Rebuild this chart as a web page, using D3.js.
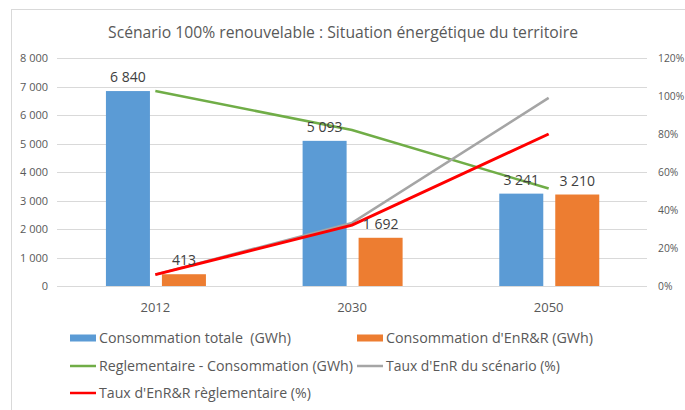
<!DOCTYPE html>
<html><head><meta charset="utf-8">
<script src="https://cdn.jsdelivr.net/npm/d3@7"></script>
<style>
html,body{margin:0;padding:0;background:#fff;}
svg{display:block;font-family:"Open Sans","Noto Sans",sans-serif;}
</style></head>
<body><svg id="c" width="685" height="410"></svg>
<script>
const title = "Scénario 100% renouvelable : Situation énergétique du territoire";
const categories = ["2012", "2030", "2050"];
const consoTotale = [6840, 5093, 3241];
const consoEnR = [413, 1692, 3210];
const reglementaireConso = [6840, 5472, 3420];
const tauxScenario = [6.0, 33.2, 99.0];
const tauxReglementaire = [6.0, 32, 80];
const leftTicks = [0, 1000, 2000, 3000, 4000, 5000, 6000, 7000, 8000];
const rightTicks = [0, 20, 40, 60, 80, 100, 120];
const seriesNames = ["Consommation totale  (GWh)", "Consommation d'EnR&R (GWh)",
  "Reglementaire - Consommation (GWh)", "Taux d'EnR du scénario (%)", "Taux d'EnR&R règlementaire (%)"];
const colors = ["#5B9BD5", "#ED7D31", "#70AD47", "#A5A5A5", "#FF0000"];

const svg = d3.select("#c");
const L = 57, R = 647, T = 58, B = 286;

// border
svg.append("rect").attr("x", 11.5).attr("y", 9.5).attr("width", 700).attr("height", 420)
  .attr("fill", "none").attr("stroke", "#D9D9D9");

function fitText(sel, w) {
  const node = sel.node();
  const cur = node.getComputedTextLength();
  const fs = parseFloat(sel.attr("font-size"));
  sel.attr("font-size", (fs * w / cur).toFixed(2));
}

const x = d3.scaleBand().domain(categories).range([L, R]);
const yL = d3.scaleLinear().domain([0, 8000]).range([B, T]);
const yR = d3.scaleLinear().domain([0, 120]).range([B, T]);
const inner = d3.scaleBand().domain([0, 1]).range([-49.4, 50.6]).paddingInner(0.214);

// title
const t = svg.append("text").attr("x", 343).attr("y", 38).attr("text-anchor", "middle")
  .attr("font-size", 18).attr("fill", "#595959").text(title);
fitText(t, 470);

// grid
svg.append("g").selectAll("line").data(leftTicks).join("line")
  .attr("x1", L).attr("x2", R).attr("y1", d => Math.round(yL(d)) + 0.5).attr("y2", d => Math.round(yL(d)) + 0.5)
  .attr("stroke", "#D9D9D9").attr("stroke-width", 1);

// left axis labels
const fmt = d => d3.format(",")(d).replace(/,/g, " ");
svg.append("g").selectAll("text").data(leftTicks).join("text")
  .attr("x", 48).attr("y", d => yL(d) + 4).attr("text-anchor", "end")
  .attr("font-size", 11).attr("fill", "#595959").text(fmt);

// right axis labels
svg.append("g").selectAll("text").data(rightTicks).join("text")
  .attr("x", 658).attr("y", d => yR(d) + 4).attr("text-anchor", "start")
  .attr("font-size", 10.3).attr("fill", "#595959").text(d => d + "%");

// category labels
svg.append("g").selectAll("text").data(categories).join("text")
  .attr("x", d => x(d) + x.bandwidth() / 2).attr("y", 312).attr("text-anchor", "middle")
  .attr("font-size", 13).attr("fill", "#595959").text(d => d);

// bars
const barSeries = [consoTotale, consoEnR];
barSeries.forEach((vals, si) => {
  const g = svg.append("g");
  g.selectAll("rect").data(vals).join("rect")
    .attr("x", (d, i) => x(categories[i]) + x.bandwidth() / 2 + inner(si))
    .attr("width", inner.bandwidth())
    .attr("y", d => yL(d)).attr("height", d => B - yL(d))
    .attr("fill", colors[si]);
});

// lines
const cx = i => x(categories[i]) + x.bandwidth() / 2;
const lineL = d3.line().x((d, i) => cx(i)).y(d => yL(d));
const lineR = d3.line().x((d, i) => cx(i)).y(d => yR(d));
svg.append("path").datum(reglementaireConso).attr("d", lineL).attr("fill", "none")
  .attr("stroke", colors[2]).attr("stroke-width", 2.5);
svg.append("path").datum(tauxScenario).attr("d", lineR).attr("fill", "none")
  .attr("stroke", colors[3]).attr("stroke-width", 2.5);
svg.append("path").datum(tauxReglementaire).attr("d", lineR).attr("fill", "none")
  .attr("stroke", colors[4]).attr("stroke-width", 3);

// data labels
barSeries.forEach((vals, si) => {
  svg.append("g").selectAll("text").data(vals).join("text")
    .attr("x", (d, i) => x(categories[i]) + x.bandwidth() / 2 + inner(si) + inner.bandwidth() / 2)
    .attr("y", d => yL(d) - 9).attr("text-anchor", "middle")
    .attr("font-size", 14).attr("fill", "#404040").text(fmt);
});

// legend
const legendItems = [
  {name: seriesNames[0], c: colors[0], type: "rect", x: 70, y: 338},
  {name: seriesNames[1], c: colors[1], type: "rect", x: 357, y: 338},
  {name: seriesNames[2], c: colors[2], type: "line", x: 70, y: 366},
  {name: seriesNames[3], c: colors[3], type: "line", x: 357, y: 366},
  {name: seriesNames[4], c: colors[4], type: "line", x: 70, y: 393}
];
const targetW = [192, 207, 254, 174, 212];
legendItems.forEach((it, i) => {
  if (it.type === "rect") {
    svg.append("rect").attr("x", it.x).attr("y", it.y - 3.5).attr("width", 26).attr("height", 7).attr("fill", it.c);
  } else {
    svg.append("line").attr("x1", it.x).attr("x2", it.x + 26).attr("y1", it.y).attr("y2", it.y)
      .attr("stroke", it.c).attr("stroke-width", 2.5);
  }
  const tx = svg.append("text").attr("x", it.x + 29).attr("y", it.y + 5)
    .style("white-space", "pre")
    .attr("font-size", 13).attr("fill", "#595959").text(it.name);
  fitText(tx, targetW[i]);
});
</script></body></html>
